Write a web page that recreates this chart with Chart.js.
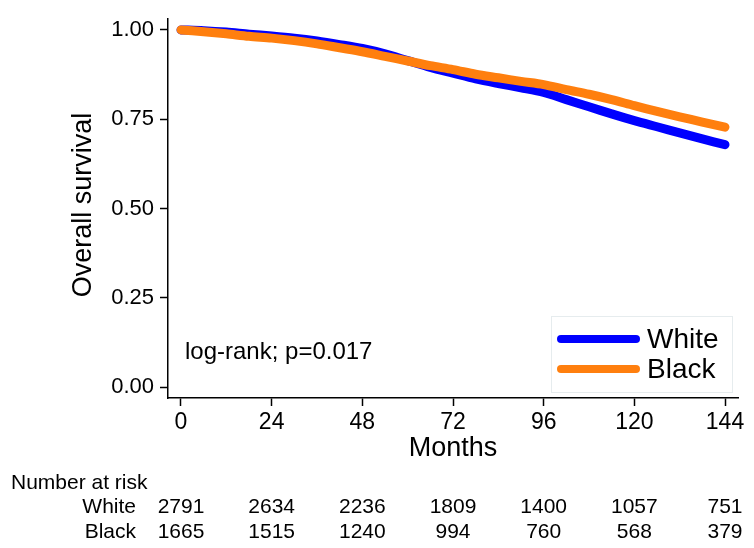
<!DOCTYPE html>
<html>
<head>
<meta charset="utf-8">
<script src="https://cdn.jsdelivr.net/npm/chart.js@4"></script>
<style>
  body { margin: 0; background: #fff; }
  #km { display: block; }
</style>
</head>
<body>
<canvas id="km" width="754" height="548"></canvas>
<script>
// survival estimates, every 6 months
const months = [0, 6, 12, 18, 24, 30, 36, 42, 48, 54, 60, 66, 72, 78, 84, 90, 96, 102, 108, 114, 120, 126, 132, 138, 144];
const whiteSurv = [1.000, 0.998, 0.994, 0.988, 0.983, 0.977, 0.969, 0.959, 0.948, 0.933, 0.914, 0.895, 0.879, 0.863, 0.850, 0.838, 0.825, 0.805, 0.785, 0.765, 0.746, 0.729, 0.712, 0.695, 0.679];
const blackSurv = [1.000, 0.995, 0.989, 0.982, 0.977, 0.970, 0.961, 0.950, 0.939, 0.926, 0.913, 0.900, 0.889, 0.876, 0.866, 0.856, 0.847, 0.833, 0.820, 0.805, 0.788, 0.772, 0.757, 0.742, 0.728];

const xTicks = [0, 24, 48, 72, 96, 120, 144];
const yTicks = [0, 0.25, 0.5, 0.75, 1];

const groups = ['White', 'Black'];
const atRiskWhite = [2791, 2634, 2236, 1809, 1400, 1057, 751];
const atRiskBlack = [1665, 1515, 1240, 994, 760, 568, 379];

const pText = 'log-rank; p=0.017';

const FONT = "'Liberation Sans', Arial, sans-serif";
const blue = 'rgb(0,0,255)';
const orange = 'rgb(255,127,14)';

function pts(ys) {
  return months.map(function(m, i) { return { x: m, y: ys[i] }; });
}

// legend, p-value, axis titles and number-at-risk table
const extras = {
  id: 'extras',
  afterDraw: function(chart) {
    const ctx = chart.ctx;
    const xs = chart.scales.x;
    ctx.save();
    ctx.fillStyle = '#000';

    // y title
    ctx.save();
    ctx.translate(84, 205);
    ctx.rotate(-Math.PI / 2);
    ctx.font = '27px ' + FONT;
    ctx.textAlign = 'center';
    ctx.textBaseline = 'middle';
    ctx.fillText('Overall survival', 0, 0);
    ctx.restore();

    // x title
    ctx.font = '27px ' + FONT;
    ctx.textAlign = 'center';
    ctx.textBaseline = 'middle';
    ctx.fillText('Months', xs.getPixelForValue(72), 449);

    // p-value
    ctx.font = '24px ' + FONT;
    ctx.textAlign = 'left';
    ctx.fillText(pText, 185, 352);

    // legend box
    ctx.fillStyle = '#fff';
    ctx.fillRect(551, 316, 181, 76);
    ctx.strokeStyle = '#e6ecee';
    ctx.lineWidth = 1;
    ctx.strokeRect(551.5, 316.5, 181, 76);
    const legCols = [blue, orange];
    const legY = [339, 369];
    ctx.lineCap = 'round';
    for (let i = 0; i < groups.length; i++) {
      ctx.strokeStyle = legCols[i];
      ctx.lineWidth = 8;
      ctx.beginPath();
      ctx.moveTo(561, legY[i]);
      ctx.lineTo(636, legY[i]);
      ctx.stroke();
      ctx.fillStyle = '#000';
      ctx.font = '28px ' + FONT;
      ctx.textAlign = 'left';
      ctx.fillText(groups[i], 647, legY[i] + 1);
    }

    // number at risk
    ctx.fillStyle = '#000';
    ctx.font = '21px ' + FONT;
    ctx.textAlign = 'left';
    ctx.fillText('Number at risk', 11, 483);
    const rows = [atRiskWhite, atRiskBlack];
    const rowY = [507, 532];
    for (let r = 0; r < rows.length; r++) {
      ctx.textAlign = 'right';
      ctx.fillText(groups[r], 136, rowY[r]);
      ctx.textAlign = 'center';
      for (let i = 0; i < xTicks.length; i++) {
        ctx.fillText(String(rows[r][i]), xs.getPixelForValue(xTicks[i]), rowY[r]);
      }
    }
    ctx.restore();
  }
};

const config = {
  type: 'line',
  data: {
    datasets: [
      { label: 'White', data: pts(whiteSurv), borderColor: blue, backgroundColor: blue, order: 1 },
      { label: 'Black', data: pts(blackSurv), borderColor: orange, backgroundColor: orange, order: 0 }
    ]
  },
  options: {
    responsive: false,
    animation: false,
    layout: { padding: { top: 7, right: 16, left: 0, bottom: 0 } },
    elements: {
      point: { radius: 0 },
      line: { borderWidth: 9, borderCapStyle: 'round', borderJoinStyle: 'round', tension: 0.3 }
    },
    plugins: {
      legend: { display: false },
      tooltip: { enabled: false },
      title: { display: false }
    },
    scales: {
      x: {
        type: 'linear',
        min: -3.44,
        max: 147.44,
        afterFit: function(s) { s.height = 150; },
        afterBuildTicks: function(s) { s.ticks = xTicks.map(function(v) { return { value: v }; }); },
        grid: { drawOnChartArea: false, tickLength: 8, color: '#000', tickWidth: 1.5 },
        border: { color: '#000', width: 1.5 },
        ticks: { color: '#000', padding: 3, font: { family: FONT, size: 23 }, maxRotation: 0 }
      },
      y: {
        type: 'linear',
        min: -0.03,
        max: 1.03,
        afterFit: function(s) { s.width = 168; },
        afterBuildTicks: function(s) { s.ticks = yTicks.map(function(v) { return { value: v }; }); },
        grid: { drawOnChartArea: false, tickLength: 8, color: '#000', tickWidth: 1.5 },
        border: { color: '#000', width: 1.5 },
        ticks: {
          color: '#000', padding: 6, font: { family: FONT, size: 22 },
          callback: function(v) { return Number(v).toFixed(2); }
        }
      }
    }
  },
  plugins: [extras]
};

var KmChart = new Chart(document.getElementById('km'), config);
</script>
</body>
</html>
